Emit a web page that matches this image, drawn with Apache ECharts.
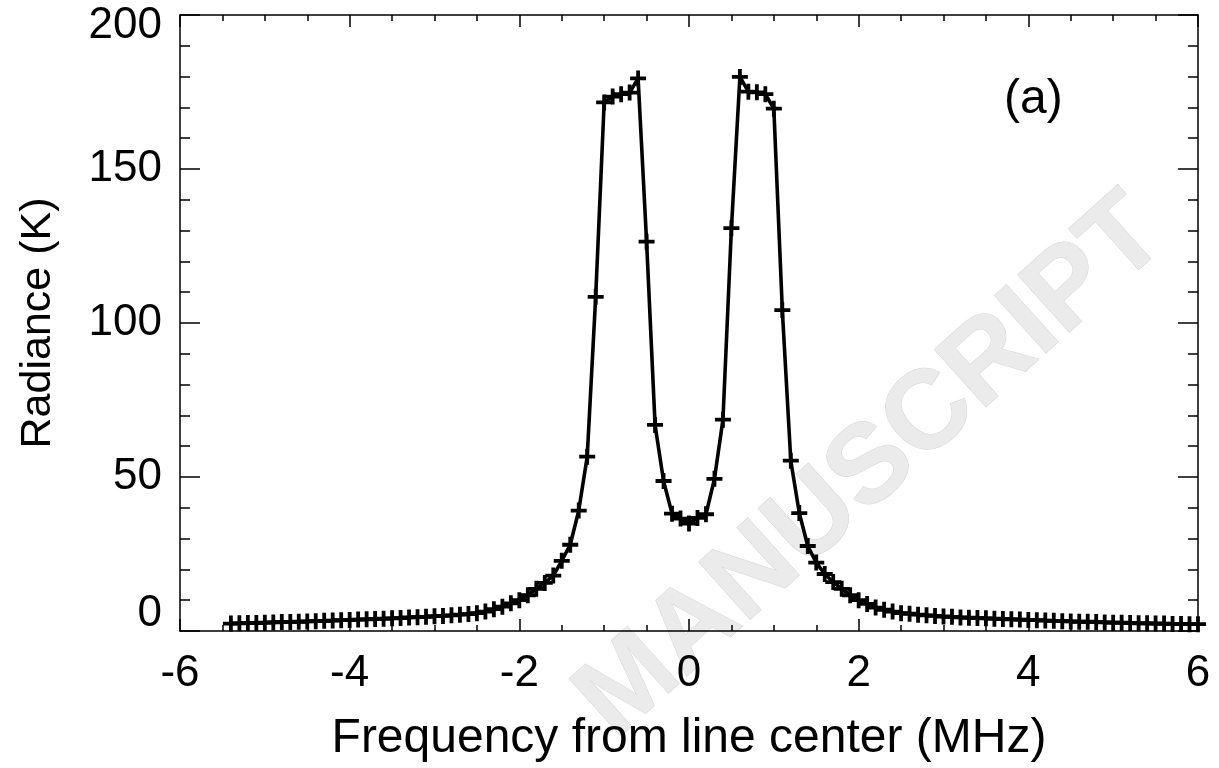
<!DOCTYPE html>
<html>
<head>
<meta charset="utf-8">
<script src="https://cdn.jsdelivr.net/npm/echarts@6/dist/echarts.min.js"></script>
<style>
html,body{margin:0;padding:0;background:#fff;}
#chart{width:1219px;height:768px;}
</style>
</head>
<body>
<div id="chart"></div>
<script>
// Frequency from line center (MHz)
var frequency = [
 -5.4,-5.3,-5.2,-5.1,-5.0,-4.9,-4.8,-4.7,-4.6,-4.5,-4.4,-4.3,-4.2,-4.1,-4.0,-3.9,-3.8,-3.7,-3.6,-3.5,
 -3.4,-3.3,-3.2,-3.1,-3.0,-2.9,-2.8,-2.7,-2.6,-2.5,-2.4,-2.3,-2.2,-2.1,-2.0,-1.9,-1.8,-1.7,-1.6,-1.5,
 -1.4,-1.3,-1.2,-1.1,-1.0,-0.9,-0.8,-0.7,-0.6,-0.5,-0.4,-0.3,-0.2,-0.1,0.0,0.1,0.2,0.3,0.4,0.5,
 0.6,0.7,0.8,0.9,1.0,1.1,1.2,1.3,1.4,1.5,1.6,1.7,1.8,1.9,2.0,2.1,2.2,2.3,2.4,2.5,
 2.6,2.7,2.8,2.9,3.0,3.1,3.2,3.3,3.4,3.5,3.6,3.7,3.8,3.9,4.0,4.1,4.2,4.3,4.4,4.5,
 4.6,4.7,4.8,4.9,5.0,5.1,5.2,5.3,5.4,5.5,5.6,5.7,5.8,5.9,6.0
];
// Radiance (K)
var radiance = [
 2.4,2.5,2.6,2.6,2.7,2.8,2.9,2.9,3.0,3.1,3.2,3.3,3.4,3.5,3.6,3.7,3.8,3.9,4.0,4.1,
 4.2,4.4,4.5,4.6,4.8,4.9,5.1,5.3,5.5,5.8,6.3,7.1,7.9,9.0,10.0,11.6,13.7,15.6,18.0,22.8,
 28.0,39.1,56.6,108.5,171.6,173.5,174.3,174.8,179.4,126.4,66.9,48.7,38.1,36.5,34.9,36.7,37.9,49.4,68.6,130.8,
 179.9,175.1,174.9,174.3,169.6,104.2,55.3,38.3,27.6,22.2,18.5,15.9,13.7,11.6,10.0,8.8,7.6,6.9,6.3,5.8,
 5.6,5.3,5.1,4.9,4.7,4.6,4.4,4.3,4.2,4.1,4.0,3.9,3.8,3.7,3.6,3.5,3.4,3.3,3.2,3.1,
 3.0,3.0,2.9,2.8,2.7,2.7,2.6,2.5,2.5,2.4,2.4,2.3,2.3,2.2,2.2
];
var xTicks = [-6, -4, -2, 0, 2, 4, 6];
var yTicks = [0, 50, 100, 150, 200];
var xTitle = 'Frequency from line center (MHz)';
var yTitle = 'Radiance (K)';
var panelLabel = '(a)';
var watermark = 'MANUSCRIPT';

var pts = frequency.map(function (f, i) { return [f, radiance[i]]; });
var FONT = 'Liberation Sans';
var plus = 'path://M-8,-1.9 H8 V1.9 H-8 Z M-1.9,-8 H1.9 V8 H-1.9 Z';

var chart = echarts.init(document.getElementById('chart'), null, {renderer: 'canvas'});

function xAx(pos, show) {
  return {
    type: 'value', position: pos, min: xTicks[0], max: xTicks[xTicks.length - 1],
    interval: xTicks[1] - xTicks[0],
    axisLine: {show: true, onZero: false, lineStyle: {color: '#000', width: 1.5}},
    axisTick: {show: true, inside: true, length: 12, lineStyle: {color: '#000', width: 1.5}},
    minorTick: {show: true, splitNumber: 4, length: 6, lineStyle: {color: '#000', width: 1.5}},
    splitLine: {show: false},
    axisLabel: {show: show, color: '#000', fontSize: 44, fontFamily: FONT, margin: 21},
    name: show ? xTitle : '', nameLocation: 'middle', nameGap: 84,
    nameTextStyle: {color: '#000', fontSize: 48, fontFamily: FONT}
  };
}
function yAx(pos, show) {
  var lo = yTicks[0], hi = yTicks[yTicks.length - 1];
  return {
    type: 'value', position: pos, min: lo, max: hi,
    interval: yTicks[1] - yTicks[0],
    axisLine: {show: true, onZero: false, lineStyle: {color: '#000', width: 1.5}},
    axisTick: {show: true, inside: true, length: 20, lineStyle: {color: '#000', width: 1.5}},
    minorTick: {show: true, splitNumber: 5, length: 10, lineStyle: {color: '#000', width: 1.5}},
    splitLine: {show: false},
    axisLabel: {show: show, color: '#000', fontSize: 44, fontFamily: FONT, margin: 18,
      formatter: function (v) {
        if (v === lo) return '{lo|' + v + '}';
        if (v === hi) return '{hi|' + v + '}';
        return '' + v;
      },
      rich: {
        lo: {fontSize: 44, fontFamily: FONT, color: '#000', padding: [0, 0, 34, 0]},
        hi: {fontSize: 44, fontFamily: FONT, color: '#000', padding: [22, 0, 0, 0]}
      }
    },
    name: show ? yTitle : '', nameLocation: 'middle', nameGap: 120, nameRotate: 90,
    nameTextStyle: {color: '#000', fontSize: 43, fontFamily: FONT}
  };
}

chart.setOption({
  animation: false,
  backgroundColor: '#fff',
  grid: {left: 180, top: 15, right: 21, bottom: 123, containLabel: false},
  xAxis: [xAx('bottom', true), xAx('top', false)],
  yAxis: [yAx('left', true), yAx('right', false)],
  graphic: [
    {type: 'text', z: -10, x: 872, y: 468, rotation: 42 * Math.PI / 180,
      style: {text: watermark, font: 'bold 112px "Liberation Sans"', fill: '#ebebeb',
        stroke: '#d4d4d4', lineWidth: 1, textAlign: 'center', textVerticalAlign: 'middle'}},
    {type: 'text', x: 1004, y: 76,
      style: {text: panelLabel, font: '48px "Liberation Sans"', fill: '#000'}}
  ],
  series: [{
    type: 'line', xAxisIndex: 0, yAxisIndex: 0, data: pts,
    symbol: plus, symbolSize: 16, showAllSymbol: true, clip: true,
    lineStyle: {color: '#000', width: 3.6},
    itemStyle: {color: '#000'},
    z: 5
  }]
});
</script>
</body>
</html>
